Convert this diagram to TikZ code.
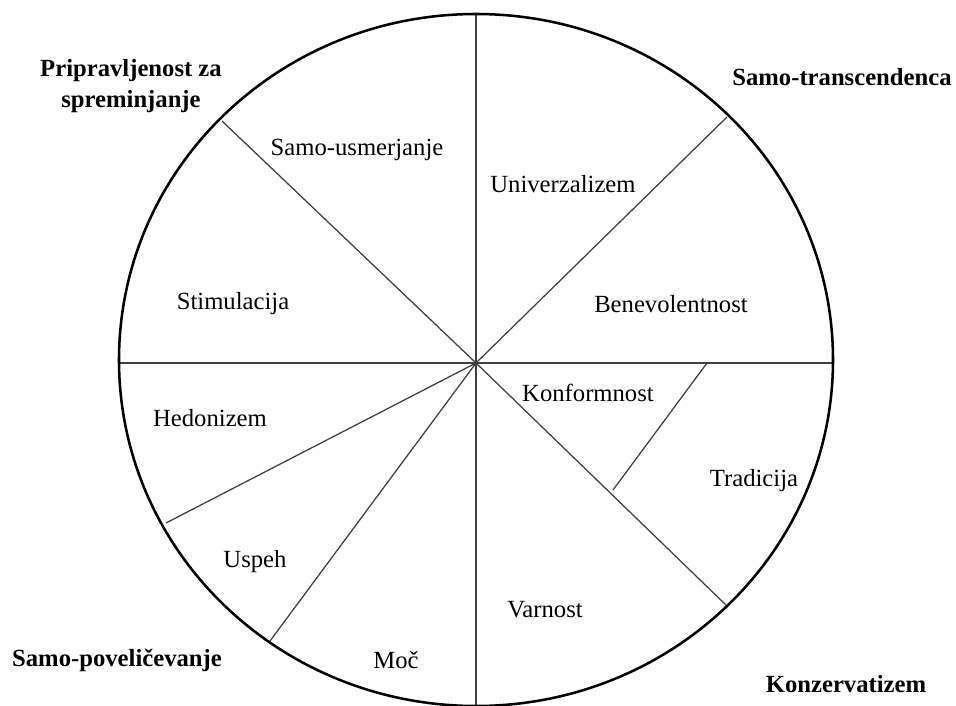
\documentclass[tikz,border=0pt]{standalone}
\usepackage{fontspec}
\setmainfont{Liberation Serif}
\tikzset{
  rim/.style={line width=1.9pt, black},
  spoke/.style={line width=0.95pt, black!75},
  lab/.style={font=\fontsize{18.5}{22}\selectfont, inner sep=0pt, anchor=center},
  grp/.style={font=\fontsize{18.5}{23.5}\selectfont\bfseries, inner sep=0pt, anchor=center, align=center},
}
\begin{document}
\begin{tikzpicture}[x=0.75pt,y=-0.75pt]
\useasboundingbox (0,0) rectangle (956,706);
\clip (0,0) rectangle (956,706);
\coordinate (C) at (476,363);
\coordinate (T) at (476,14);
\coordinate (B) at (476,712);
\coordinate (L) at (119,363);
\coordinate (R) at (833,363);
\coordinate (UL) at (222,121);
\coordinate (UR) at (727,117);
\coordinate (LR) at (727,606);
\coordinate (H) at (166,523);
\coordinate (M) at (270,641);
\coordinate (TA) at (707,363);
\coordinate (TB) at (613,490);
\draw[spoke] (T) -- (B);
\draw[spoke] (L) -- (R);
\draw[spoke] (C) -- (UL);
\draw[spoke] (C) -- (UR);
\draw[spoke] (C) -- (LR);
\draw[spoke] (C) -- (H);
\draw[spoke] (C) -- (M);
\draw[spoke] (TA) -- (TB);
\draw[rim] (476,360) ellipse [x radius=357, y radius=346];
\node[lab] (su) at (357,150) {Samo-usmerjanje};
\node[lab] (un) at (563,184) {Univerzalizem};
\node[lab] (st) at (233,304) {Stimulacija};
\node[lab] (be) at (671,304) {Benevolentnost};
\node[lab] (ko) at (588,393) {Konformnost};
\node[lab] (he) at (210,418) {Hedonizem};
\node[lab] (tr) at (754,481) {Tradicija};
\node[lab] (us) at (255,562) {Uspeh};
\node[lab] (va) at (545,610) {Varnost};
\node[lab] (mo) at (396,660) {Moč};
\node[grp] (g1) at (131,86) {Pripravljenost za\\spreminjanje};
\node[grp] (g2) at (842,77) {Samo-transcendenca};
\node[grp] (g3) at (117,660) {Samo-poveličevanje};
\node[grp] (g4) at (846,684) {Konzervatizem};
\end{tikzpicture}
\end{document}
